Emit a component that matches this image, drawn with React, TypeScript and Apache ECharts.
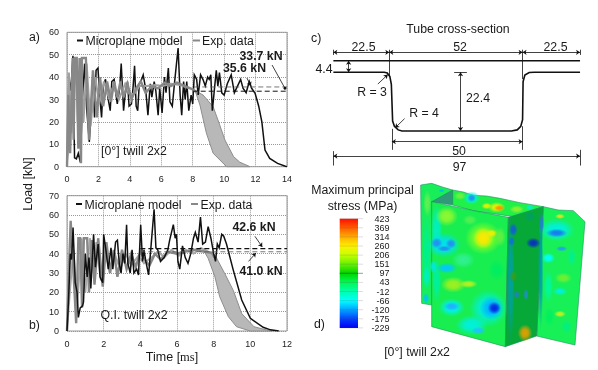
import React, { useEffect, useRef } from "react";
import * as echarts from "echarts";

const FONT = "Liberation Sans";

const modelA = [[0,0],[0.05,8],[0.12,41],[0.2,34],[0.28,38],[0.38,49.5],[0.48,4],[0.6,3.5],[0.72,6],[0.85,2],[0.98,30],[1.12,46],[1.25,26],[1.42,11],[1.55,28],[1.65,42],[1.75,22],[1.85,43],[1.97,44],[2.1,30],[2.2,22],[2.3,36],[2.45,39],[2.6,31],[2.75,25],[2.85,38],[3.0,39],[3.1,33],[3.2,28],[3.35,35],[3.45,46],[3.6,25],[3.7,32],[3.85,38],[3.95,27],[4.1,28],[4.2,35],[4.3,45],[4.4,27],[4.5,25],[4.6,37],[4.75,39],[4.85,41],[5,35],[5.15,23],[5.3,37],[5.4,31],[5.55,38],[5.65,34],[5.8,23],[5.9,35],[6.05,24],[6.2,40],[6.3,33],[6.45,44],[6.55,29],[6.7,27],[6.85,38],[7.07,53],[7.2,32],[7.3,23],[7.42,38],[7.52,30],[7.62,38],[7.75,25],[7.9,32],[8.0,28],[8.1,41],[8.25,39],[8.35,32],[8.5,41],[8.65,39],[8.8,36],[8.95,40],[9.05,39],[9.15,41],[9.25,25],[9.4,36],[9.5,43],[9.6,36],[9.7,42],[9.85,33],[10,32],[10.2,37],[10.45,41],[10.65,33],[10.85,36],[11.05,39],[11.2,35],[11.4,33],[11.6,38],[11.75,35],[11.97,32.8],[12.2,27],[12.4,20],[12.6,7.4],[12.9,3.7],[13.4,1.5],[13.9,0.2],[14,0]];
const expA = [[0,0],[0.08,32],[0.2,6],[0.36,48.5],[0.42,12],[0.5,48.5],[0.62,48.5],[0.72,8],[0.8,48.5],[0.89,1.5],[0.95,48.5],[1.2,48.5],[1.4,12],[1.65,43],[1.9,22],[2.1,40],[2.3,27],[2.55,38],[2.8,29],[3.0,38],[3.2,31],[3.4,38],[3.6,31],[3.85,37],[4.1,30],[4.4,35],[4.7,38],[5,33],[5.4,36],[5.8,35],[6.2,37.5],[6.6,36],[7,37.5],[7.5,36],[8,34.5],[8.3,33]];
const expA2 = [[0,0],[0.12,42],[0.28,15],[0.55,48],[0.68,20],[0.9,48],[1.05,20],[1.25,46],[1.5,18],[1.8,40],[2.05,28],[2.35,38],[2.65,31],[2.95,36],[3.3,30],[3.7,37],[4.0,32],[4.35,33],[4.6,36],[5.1,36],[5.6,36.5],[6.1,36],[6.6,37],[7.2,36.5],[7.8,35]];
const bandA = [[8.15,34],[8.66,32],[9.3,26.8],[9.7,19],[10.05,11.9],[10.6,4.5],[11,2],[11.65,0],[10.16,0],[9.3,6],[8.87,15],[8.46,27.5],[8.2,33]];
const modelB = [[0,0],[0.08,15],[0.18,40],[0.25,37],[0.33,53.5],[0.45,25],[0.55,20],[0.62,7],[0.72,12],[0.85,13],[0.9,15],[1.0,40],[1.1,28],[1.2,38],[1.3,22],[1.45,50],[1.55,33],[1.7,45],[1.8,28],[1.95,25],[2.0,50],[2.12,42],[2.25,32],[2.4,43],[2.5,32],[2.65,46],[2.75,47],[2.85,35],[2.95,30],[3.05,40],[3.15,35],[3.25,55],[3.32,35],[3.45,30],[3.55,42],[3.65,30],[3.8,32],[3.9,29],[4.02,55],[4.12,36],[4.2,42],[4.3,36],[4.45,29],[4.55,40],[4.75,63],[4.85,43],[4.95,42],[5.1,36],[5.3,38],[5.5,42],[5.6,47],[5.8,55],[5.9,48],[5.97,50],[6.05,36],[6.15,32],[6.3,44],[6.45,38],[6.6,35],[6.75,40],[6.9,48],[7.0,51],[7.15,46],[7.28,59],[7.4,45],[7.55,46],[7.7,54],[7.85,48],[8.0,40],[8.1,36],[8.2,45],[8.3,43],[8.44,50],[8.55,49],[8.7,45],[9.07,31.5],[9.53,16],[10,6.6],[10.7,1.9],[11.1,0.6],[11.55,0]];
const expB = [[0,0],[0.1,30],[0.2,57],[0.3,40],[0.5,4],[0.62,48],[0.72,48],[0.82,12],[0.92,48],[1.1,48],[1.2,20],[1.35,47],[1.5,24],[1.7,48],[1.95,23],[2.15,46],[2.35,30],[2.55,42],[2.75,28],[3.0,42],[3.25,32],[3.5,40],[3.75,33],[4.0,41],[4.3,36],[4.5,34],[4.8,40],[5.1,37],[5.5,41],[6,40],[6.4,41],[7,42],[7.5,41],[7.9,40.5],[8.05,38]];
const expB2 = [[0,0],[0.15,20],[0.35,42],[0.55,12],[0.8,48],[1.0,20],[1.25,48],[1.45,30],[1.6,46],[1.85,26],[2.05,44],[2.3,32],[2.6,40],[2.9,32],[3.2,40],[3.5,34],[3.9,39],[4.2,35],[4.6,38],[5,41],[5.3,38],[5.7,42],[6.1,39],[6.5,42],[6.9,40],[7.3,43],[7.7,41]];
const bandB = [[7.44,41.9],[8.07,39.3],[8.6,29.8],[9.07,21],[9.53,9],[10.2,2.2],[10.9,0.5],[11.2,0],[10,0],[9.25,2.2],[8.8,7.4],[8.33,17.7],[8.07,28],[7.7,37.6]];
const meanA = { model: 33.7, exp: 35.6 };
const meanB = { model: 42.6, exp: 41.0 };
const xMaxA = 14;
const xMaxB = 12;

const profileFlat = [[0,0],[97,0]];
const profile = [[0,-4.4],[20,-4.4],[21.2,-4.7],[22.2,-6],[22.8,-9],[23.3,-23],[24,-25],[25.5,-26.4],[27,-26.8],[70,-26.8],[72.3,-26.4],[73.7,-25],[74.4,-22.5],[74.6,-8],[75.3,-5.5],[77,-4.5],[79,-4.4],[97,-4.4]];
const dimArrows = [
  [[0,3.2],[22,3.2]],[[22,3.2],[74.4,3.2]],[[74.4,3.2],[97,3.2]],
  [[6,0],[6,-4.4]],[[50,-4.4],[50,-26.8]],[[23,-30.9],[74.4,-30.9]],[[0,-36.4],[97,-36.4]],
];
const dimLeaders = [[[17.5,-8.9],[21.4,-5.3]],[[28,-22.1],[24.3,-25.6]]];
const dimTicks = [
  [[0,4.2],[0,2.2]],[[22,4.2],[22,-6]],[[74.4,4.2],[74.4,-7]],[[97,4.2],[97,2.2]],
  [[47.5,-4.4],[52.5,-4.4]],[[23,-26],[23,-34]],[[74.4,-25],[74.4,-34]],
  [[0,-34.5],[0,-40]],[[97,-34],[97,-40]],
];

const stressLabels = ["423","369","314","260","206","151","97","43","-12","-66","-120","-175","-229"];
const stressStops: [number, string][] = [[0,"#ff1000"],[0.08,"#ff5a00"],[0.17,"#ffb000"],[0.25,"#fff000"],[0.33,"#c8ff00"],[0.42,"#60f000"],[0.5,"#00d400"],[0.58,"#00f850"],[0.67,"#00ffb0"],[0.75,"#00ffff"],[0.83,"#00a8ff"],[0.92,"#0040ff"],[1,"#0000f0"]];

const dark = "#111";
const grayLine = "#888";

function box(top: number, height: number) {
  return { left: 67, top, width: 220, height, show: true, borderColor: "#999", borderWidth: 1, backgroundColor: "transparent" };
}
const dotted = { show: true, lineStyle: { color: "#999", type: "dotted", width: 1 } };
function xAxis(idx: number, max: number, extra: any = {}) {
  return {
    type: "value", gridIndex: idx, min: 0, max, interval: 2,
    axisLine: { show: false }, axisTick: { show: false },
    axisLabel: { fontFamily: FONT, fontSize: 9, color: "#222", margin: 8 },
    splitLine: dotted,
    ...extra,
  };
}
function yAxis(idx: number, max: number) {
  return {
    type: "value", gridIndex: idx, min: 0, max, interval: 10,
    axisLine: { show: false }, axisTick: { show: false },
    axisLabel: { fontFamily: FONT, fontSize: 9, color: "#222", margin: 8 },
    splitLine: dotted,
  };
}
function bandSeries(points: number[][], idx: number) {
  return {
    type: "custom", xAxisIndex: idx, yAxisIndex: idx, z: 3, silent: true,
    data: [[0, 0]],
    renderItem: (_p: any, api: any) => ({
      type: "polygon",
      shape: { points: points.map((p) => api.coord(p)) },
      style: { fill: "#b8b8b8", stroke: "#8e8e8e", lineWidth: 1 },
    }),
  };
}
function line(data: number[][], idx: number, color: string, width: number, z: number, dashed = false) {
  return {
    type: "line", xAxisIndex: idx, yAxisIndex: idx, data, showSymbol: false, symbol: "none", z,
    lineStyle: { color, width, type: dashed ? [5, 3] : "solid", join: "miter" }, silent: true,
  };
}
function leader(data: number[][][], idx: number, symbol: any[], size: number) {
  return {
    type: "lines", coordinateSystem: "cartesian2d", xAxisIndex: idx, yAxisIndex: idx, z: 8, silent: true,
    symbol, symbolSize: size,
    lineStyle: { color: dark, width: 0.8, opacity: 1, curveness: 0 },
    data: data.map((coords) => ({ coords })),
  };
}
function txt(text: string, x: number, y: number, fontSize = 12.3, extra: any = {}, align = "left") {
  return { type: "text", x, y, z: 20, silent: true, style: { text, fontFamily: FONT, fontSize, fill: "#1a1a1a", align, verticalAlign: "middle", ...extra } };
}

const Z = (x: number, y: number) => [300 + x / 3, 170 + y / 3];
const poly = (pts: number[][], fill: string, stroke = "#1f9060") => ({
  type: "polygon", z: 5, silent: true,
  shape: { points: pts.map((p) => Z(p[0], p[1])) },
  style: { fill, stroke, lineWidth: 0.6 },
});
const blob = (b: any[]) => {
  const c = Z(b[0], b[1]);
  const rgb = echarts.color.parse(b[4]);
  const col = (a: number) => `rgba(${rgb[0]},${rgb[1]},${rgb[2]},${a})`;
  return {
    type: "ellipse", z: 6, silent: true,
    shape: { cx: c[0], cy: c[1], rx: b[2] / 3, ry: b[3] / 3 },
    style: {
      fill: new echarts.graphic.RadialGradient(0.5, 0.5, 0.5, [
        { offset: 0, color: col(1) }, { offset: 0.45, color: col(0.85) }, { offset: 1, color: col(0) },
      ]),
    },
  };
};

const backBlobs = [[380,250,13,120,"#00f090"],[382,100,12,40,"#60f050"],[378,385,10,16,"#00c8f0"],[425,62,9,6,"#00c0f0"],[380,320,12,35,"#00f0c0"]];
const innerBlobs = [[515,84,26,20,"#00f0e0"],[515,84,13,12,"#2090f0"],[590,112,26,16,"#f0f000"],[598,114,16,9,"#ff9000"],[560,108,16,10,"#e8f000"],[650,118,22,12,"#90f030"],[480,78,18,12,"#70f040"],[690,112,14,8,"#00f0d0"]];
const frontBlobs = [
  [410,180,18,80,"#00f0c0"],[410,330,14,70,"#00f0a0"],
  [550,204,55,50,"#90ff20"],[550,204,30,32,"#ffe800"],[575,190,18,12,"#f4ec00"],[440,139,34,30,"#90f830"],
  [432,225,52,38,"#00e0f0"],[410,219,18,16,"#2090f0"],[453,221,16,15,"#2090f0"],[433,236,22,9,"#2090f0"],
  [460,344,38,24,"#a0f020"],[505,342,28,12,"#b8f020"],[440,294,32,16,"#00c8ff"],[400,290,12,20,"#00e8e0"],
  [455,412,40,28,"#00f0f0"],[455,409,24,13,"#20b0ff"],
  [565,415,58,56,"#00f0e0"],[575,414,36,36,"#00b0ff"],[583,414,20,19,"#0028e0"],
  [515,465,48,30,"#00f0e0"],[535,482,22,11,"#20c0ff"],
  [510,150,22,16,"#50f050"],[490,270,35,25,"#30f090"],[590,300,26,32,"#00ee60"],[600,200,18,30,"#60f040"],
];
const sideBlobs = [
  [632,330,12,190,"#00a0a0"],[722,300,8,180,"#00a0a8"],
  [700,219,22,16,"#0830c0"],[640,179,13,20,"#1060d0"],[635,214,10,15,"#1070d8"],
  [650,374,10,12,"#2080c0"],[678,374,8,18,"#2090c0"],[675,489,22,26,"#e0a000"],[640,319,12,18,"#30a020"],
  [725,160,8,30,"#2080d0"],[690,140,18,16,"#00a060"],
];
const flangeBlobs = [
  [770,180,55,34,"#00f0e0"],[770,189,32,13,"#1878f0"],[785,236,18,8,"#20a0f0"],[780,139,15,8,"#e0e020"],
  [745,264,20,16,"#00ffff"],[790,324,26,16,"#70f030"],[780,364,22,12,"#00f0e0"],[780,432,18,10,"#c0f020"],
  [745,350,14,50,"#00f8a0"],[748,440,16,30,"#00f060"],[815,260,12,30,"#00f090"],[800,470,16,20,"#00f080"],
];

export default function App() {
  const ref = useRef<HTMLDivElement>(null);
  useEffect(() => {
    const chart = echarts.init(ref.current!, undefined, { renderer: "svg" });
    const barTop = 218.7, step = 9.1;
    const graphic: any[] = [
      { type: "rect", z: 20, shape: { x: 77, y: 39.5, width: 6, height: 2 }, style: { fill: dark } },
      txt("Microplane model", 85.5, 40.5),
      { type: "rect", z: 20, shape: { x: 193, y: 39.5, width: 7, height: 2 }, style: { fill: grayLine } },
      txt("Exp. data", 202, 40.5),
      { type: "rect", z: 20, shape: { x: 76, y: 203, width: 6, height: 2 }, style: { fill: dark } },
      txt("Microplane model", 84.5, 204.5),
      { type: "rect", z: 20, shape: { x: 191, y: 203, width: 7, height: 2 }, style: { fill: grayLine } },
      txt("Exp. data", 200.5, 204.5),
      txt("a)", 29, 37),
      txt("b)", 29, 325),
      txt("c)", 311, 38),
      txt("d)", 314, 324),
      txt("33.7 kN", 239.5, 55.5, 12.3, { fontWeight: "bold" }),
      txt("35.6 kN", 223, 68, 12.3, { fontWeight: "bold" }),
      txt("42.6 kN", 232.5, 227, 12.3, { fontWeight: "bold" }),
      txt("41.0 kN", 239.5, 271, 12.3, { fontWeight: "bold" }),
      txt("[0°] twill 2x2", 101, 150.5),
      txt("Q.I. twill 2x2", 100.5, 314.5),
      { type: "text", x: 28, y: 184, rotation: Math.PI / 2, z: 20, style: { text: "Load [kN]", fontFamily: FONT, fontSize: 12.5, fill: "#1a1a1a", align: "center", verticalAlign: "middle" } },
      txt("Tube cross-section", 458, 29, 12.3, {}, "center"),
      txt("22.5", 363.5, 46.5, 12.3, {}, "center"),
      txt("52", 460, 46.5, 12.3, {}, "center"),
      txt("22.5", 555.5, 46.5, 12.3, {}, "center"),
      txt("4.4", 324, 68.5, 12.3, {}, "center"),
      txt("R = 3", 372, 92, 12.3, {}, "center"),
      txt("R = 4", 424, 112.5, 12.3, {}, "center"),
      txt("22.4", 478, 98, 12.3, {}, "center"),
      txt("50", 459, 150.5, 12.3, {}, "center"),
      txt("97", 459.5, 166.5, 12.3, {}, "center"),
      txt("Maximum principal", 362.5, 190, 12.3, {}, "center"),
      txt("stress (MPa)", 362.5, 206, 12.3, {}, "center"),
      txt("[0°] twill 2x2", 417, 352, 12.3, {}, "center"),
      {
        type: "rect", z: 10, silent: true,
        shape: { x: 339.7, y: barTop, width: 18.3, height: step * 12 },
        style: { fill: new echarts.graphic.LinearGradient(0, 0, 0, 1, stressStops.map(([offset, color]) => ({ offset, color }))) },
      },
    ];
    stressLabels.forEach((t, i) => {
      const y = barTop + i * step;
      graphic.push({ type: "line", z: 11, silent: true, shape: { x1: 339.7, y1: y, x2: 363, y2: y }, style: { stroke: i === 6 ? "rgba(0,90,0,0.7)" : "rgba(90,90,90,0.3)", lineWidth: 0.7 } });
      graphic.push(txt(t, 389.5, y, 9, {}, "right"));
    });
    // finite element tube
    graphic.push(poly([[362,45],[395,40],[430,52],[458,60],[458,100],[395,95],[395,405],[365,400]], "#18ee5a"));
    backBlobs.forEach((b) => graphic.push(blob(b)));
    graphic.push(poly([[395,95],[458,60],[458,105]], "#2f9a78"));
    graphic.push(poly([[458,60],[490,66],[520,76],[560,78],[600,85],[660,98],[730,110],[640,140],[520,122],[458,105]], "#20f048"));
    innerBlobs.forEach((b) => graphic.push(blob(b)));
    graphic.push(poly([[730,110],[775,120],[820,122],[855,155],[825,525],[710,498]], "#18f058"));
    flangeBlobs.forEach((b) => graphic.push(blob(b)));
    graphic.push(poly([[395,95],[520,122],[625,142],[616,530],[395,470]], "#18ee50"));
    frontBlobs.forEach((b) => graphic.push(blob(b)));
    graphic.push(poly([[625,142],[730,110],[710,498],[616,530]], "#06a838"));
    sideBlobs.forEach((b) => graphic.push(blob(b)));

    chart.setOption({
      animation: false,
      backgroundColor: "#fff",
      grid: [
        box(32.3, 134.4),
        box(195.7, 135.3),
        { left: 300, top: 40, width: 298, height: 130, show: false },
      ],
      xAxis: [
        xAxis(0, xMaxA),
        xAxis(1, xMaxB, {
          name: "Time [{s|ms}]", nameLocation: "middle", nameGap: 19.5,
          nameTextStyle: { fontFamily: FONT, fontSize: 12.5, color: "#1a1a1a", padding: [0, 10, 0, 0], rich: { s: { fontFamily: "Liberation Serif", fontSize: 12.5, color: "#1a1a1a" } } },
        }),
        { type: "value", gridIndex: 2, min: -13.12, max: 104.06, show: false },
      ],
      yAxis: [
        yAxis(0, 60),
        yAxis(1, 70),
        { type: "value", gridIndex: 2, min: -41.7, max: 7.9, show: false },
      ],
      series: [
        bandSeries(bandA, 0),
        line(modelA, 0, dark, 1.5, 4),
        line(expA2, 0, "#a0a0a0", 2, 5),
        line(expA, 0, grayLine, 2.4, 5),
        line([[8.1, meanA.exp], [14, meanA.exp]], 0, "#555", 0.8, 6, true),
        line([[8, meanA.model], [14, meanA.model]], 0, dark, 1, 6, true),
        leader([[[11.45, 39.6], [11.7, 36]]], 0, ["none", "arrow"], 4),
        leader([[[13.05, 45.4], [13.87, 35]]], 0, ["none", "circle"], 3),

        bandSeries(bandB, 1),
        line(expB2, 1, "#a8a8a8", 2, 3),
        line(expB, 1, grayLine, 2.4, 3),
        line(modelB, 1, dark, 1.5, 4),
        line([[4, meanB.exp], [12, meanB.exp]], 1, "#555", 0.8, 6, true),
        line([[4, meanB.model], [12, meanB.model]], 1, dark, 1.1, 6, true),
        leader([[[10.25, 49], [10.65, 43.5]], [[9.9, 36], [10.3, 40.3]]], 1, ["none", "arrow"], 4),

        line(profileFlat, 2, dark, 1.5, 4),
        line(profile, 2, dark, 1.6, 4),
        leader(dimTicks, 2, ["none", "none"], 1),
        leader(dimArrows, 2, ["arrow", "arrow"], 4),
        leader(dimLeaders, 2, ["none", "arrow"], 4),
      ],
      graphic,
    });
    return () => chart.dispose();
  }, []);
  return <div ref={ref} style={{ position: "fixed", left: 0, top: 0, width: 598, height: 370, filter: "blur(0.35px)" }} />;
}
